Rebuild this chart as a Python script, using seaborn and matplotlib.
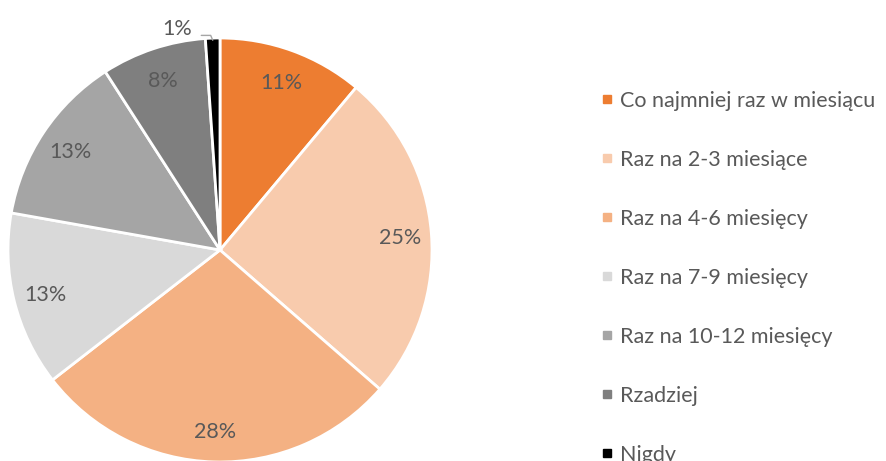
import numpy as np
import matplotlib.pyplot as plt
from matplotlib.lines import Line2D
import seaborn as sns

# data (shares in %)
categories = ['Co najmniej raz w miesiącu', 'Raz na 2-3 miesiące', 'Raz na 4-6 miesięcy',
              'Raz na 7-9 miesięcy', 'Raz na 10-12 miesięcy', 'Rzadziej', 'Nigdy']
shares = [11.1, 25.3, 28.1, 13.3, 13.1, 8.0, 1.1]
colors = ['#ED7D31', '#F8CBAD', '#F4B183', '#D9D9D9', '#A5A5A5', '#7F7F7F', '#000000']

sns.set_theme(style='white')
plt.rcParams['font.family'] = ['Lato', 'DejaVu Sans']
txt = '#595959'
fs = 15.5

fig = plt.figure(figsize=(8.86, 4.61), dpi=100)
ax = fig.add_axes([8 / 886, -1 / 461, 424 / 886, 424 / 461])

palette = sns.color_palette(colors)
wedges, texts, autotexts = ax.pie(
    shares, colors=palette, startangle=90, counterclock=False,
    autopct=lambda p: f'{p:.0f}%' if p >= 2 else '',
    pctdistance=0.85, radius=1,
    wedgeprops=dict(edgecolor='white', linewidth=2),
    textprops=dict(color=txt, fontsize=fs))
for t in autotexts:
    t.set_va('center_baseline')
ax.set_xlim(-1, 1)
ax.set_ylim(-1, 1)
ax.set_aspect('equal')
ax.axis('off')

# small slice gets an outside label with a leader line
w = wedges[-1]
ang = np.deg2rad((w.theta1 + w.theta2) / 2)
x0, y0 = np.cos(ang) * 0.99, np.sin(ang) * 0.99
ax.annotate(f'{shares[-1]:.0f}%', xy=(x0, y0), xytext=(-0.13, 1.05),
            ha='right', va='center_baseline', color=txt, fontsize=fs,
            arrowprops=dict(arrowstyle='-', color='#A6A6A6', lw=1,
                            shrinkA=4, shrinkB=0, relpos=(1, 0.2),
                            connectionstyle='angle,angleA=0,angleB=113,rad=0'),
            annotation_clip=False)

handles = [Line2D([], [], marker='s', linestyle='none', markersize=6,
                  markerfacecolor=c, markeredgecolor=c) for c in colors]
fig.legend(handles, categories, loc='upper left', bbox_to_anchor=(601 / 886, 1 - 91 / 461),
           frameon=False, fontsize=fs, labelcolor=txt, labelspacing=1.81,
           handlelength=0.6, handletextpad=0.26, borderaxespad=0, borderpad=0)

fig.savefig('out.png', dpi=100)
